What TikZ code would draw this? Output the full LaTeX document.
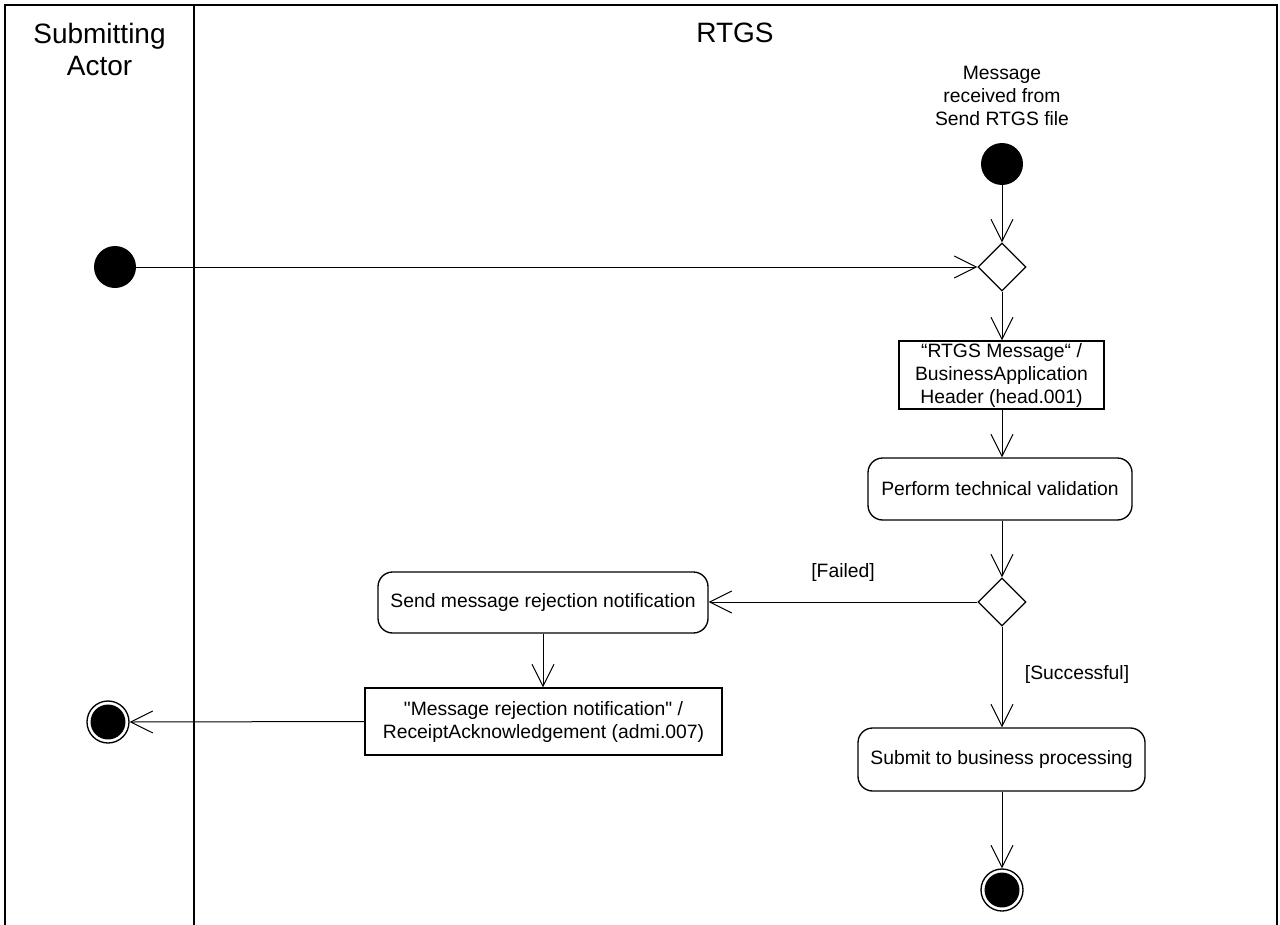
\documentclass[tikz,border=0pt]{standalone}
\usepackage{fontspec}
\setmainfont{Liberation Sans}[Ligatures=TeXOff]
\usetikzlibrary{arrows.meta,shapes.geometric}
\begin{document}
\begin{tikzpicture}[x=0.75pt,y=-0.75pt,
  every node/.style={font=\fontsize{14.5}{17.25}\selectfont},
  lane/.style={line width=1.5pt},
  objbox/.style={draw, rectangle, line width=1pt, align=center, inner sep=0pt},
  actbox/.style={draw, rectangle, rounded corners=11pt, line width=1pt, align=center, inner sep=0pt},
  decision/.style={draw, diamond, aspect=1, line width=1pt, minimum width=36pt, minimum height=36pt, inner sep=0pt},
  initial/.style={circle, fill=black, minimum size=31.5pt, inner sep=0pt},
  final/.style={circle, draw=black, fill=white, line width=1pt, minimum size=31.5pt, inner sep=0pt,
     path picture={\fill[black] (path picture bounding box.center) circle (13.1pt);}},
  flow/.style={line width=0.75pt, -{Straight Barb[length=16.5pt,width=16.5pt]}},
  header/.style={font=\fontsize{21}{24}\selectfont, align=center},
  guard/.style={font=\fontsize{14.5}{17.25}\selectfont}
]
\useasboundingbox (0,0) rectangle (1280,924);
% swimlanes
\draw[lane] (5,926) -- (5,5) -- (1277,5) -- (1277,926);
\draw[lane] (194,5) -- (194,926);
\node[header] (hactor) at (99.5,49) {Submitting\\Actor};
\node[header] (hrtgs) at (735,33) {RTGS};

% nodes
\node[align=center] (toplabel) at (1002,96) {Message\\received from\\Send RTGS file};
\node[initial] (init1) at (1002,164) {};
\node[initial] (init2) at (115,267) {};
\node[decision] (dia1) at (1002,267) {};
\node[objbox, minimum width=153.75pt, minimum height=51pt] (rtgsmsg) at (1001.5,375)
  {“RTGS Message“ /\\BusinessApplication\\Header (head.001)};
\node[actbox, minimum width=198pt, minimum height=46.5pt] (perform) at (1000,489) {Perform technical validation};
\node[decision] (dia2) at (1002,602) {};
\node[actbox, minimum width=247.5pt, minimum height=45.75pt] (send) at (543,602.5) {Send message rejection notification};
\node[objbox, minimum width=267.75pt, minimum height=50.25pt] (msgrej) at (543.5,721.5)
  {"Message rejection notification" /\\ReceiptAcknowledgement (admi.007)};
\node[actbox, minimum width=215.25pt, minimum height=47.25pt] (submit) at (1001.5,759.5) {Submit to business processing};
\node[final] (fin1) at (108,722) {};
\node[final] (fin2) at (1002,890) {};

% connectors
\draw[flow] (init1) -- (dia1.north);
\draw[flow] (init2) -- (dia1.west);
\draw[flow] (dia1.south) -- (dia1.south |- rtgsmsg.north);
\draw[flow] (dia1.south |- rtgsmsg.south) -- (dia1.south |- perform.north);
\draw[flow] (dia1.south |- perform.south) -- (dia2.north);
\draw[flow] (dia2.west) -- node[midway, yshift=22.5pt, guard] {[Failed]} (dia2.west -| send.east);
\draw[flow] (dia2.south) -- node[pos=0.48, xshift=56.25pt, guard] {[Successful]} (dia2.south |- submit.north);
\draw[flow] (send.south) -- (send.south |- msgrej.north);
\draw[flow] (msgrej.west) -- (fin1.east);
\draw[flow] (dia2.south |- submit.south) -- (fin2.north);
\end{tikzpicture}
\end{document}
